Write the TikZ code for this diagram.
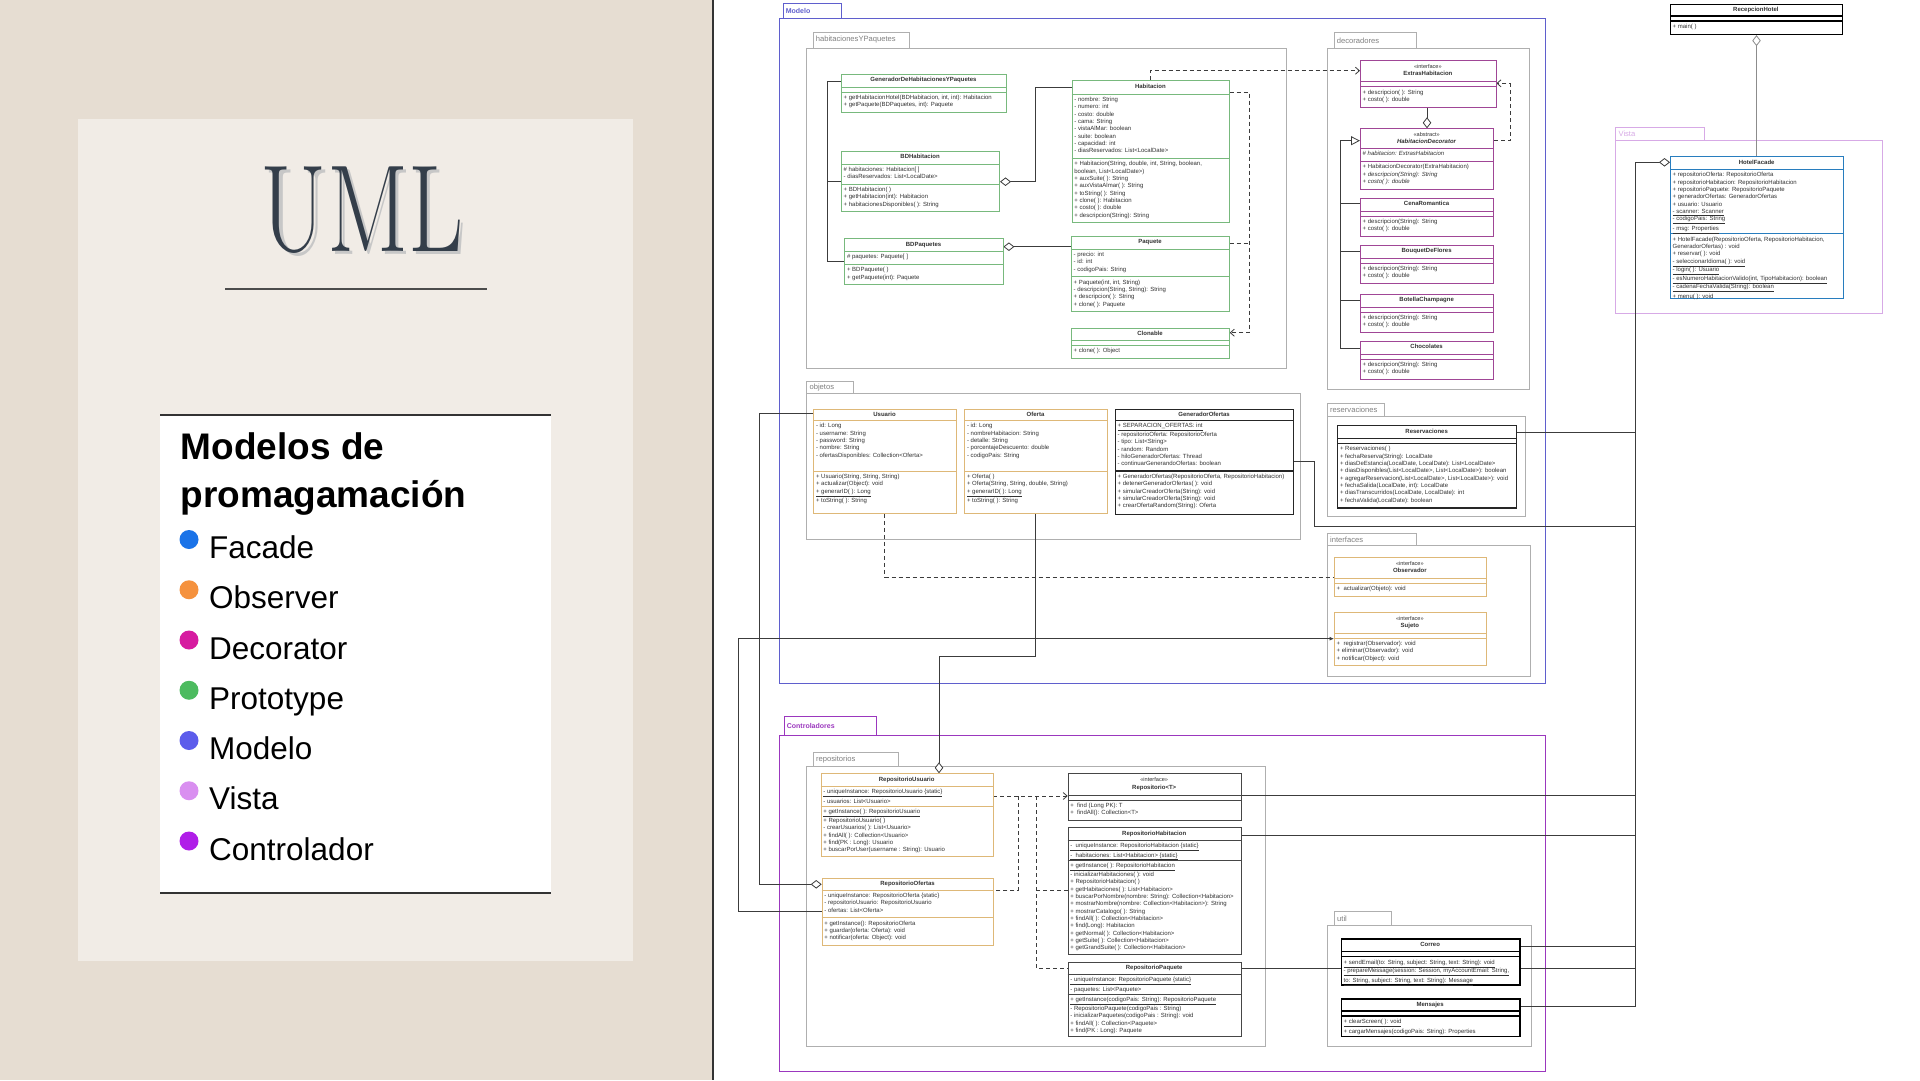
\documentclass[tikz,border=0pt]{standalone}
\usepackage{fontspec}
\newfontfamily\lsans{Liberation Sans}
\usetikzlibrary{arrows.meta,fit}
\pgfdeclarelayer{pk}
\pgfdeclarelayer{cn}
\pgfsetlayers{pk,cn,main}

\definecolor{bgout}{RGB}{230,221,210}
\definecolor{bgin}{RGB}{241,236,230}
\definecolor{umlc}{RGB}{52,62,74}
\definecolor{txt}{RGB}{50,50,50}
\definecolor{protoC}{RGB}{120,185,125}
\definecolor{decoC}{RGB}{160,70,150}
\definecolor{obsC}{RGB}{222,184,120}
\definecolor{darkC}{RGB}{70,70,70}
\definecolor{facC}{RGB}{40,125,190}
\definecolor{pkgC}{RGB}{175,175,175}
\definecolor{modC}{RGB}{95,95,205}
\definecolor{visC}{RGB}{215,170,230}
\definecolor{ctrC}{RGB}{155,55,190}
\definecolor{lineC}{RGB}{60,60,60}
\definecolor{lgFac}{RGB}{26,115,232}
\definecolor{lgObs}{RGB}{245,146,62}
\definecolor{lgDec}{RGB}{214,27,160}
\definecolor{lgPro}{RGB}{76,187,95}
\definecolor{lgMod}{RGB}{92,92,235}
\definecolor{lgVis}{RGB}{217,143,240}
\definecolor{lgCtr}{RGB}{176,30,232}

\newcommand\uhf{\lsans\bfseries\fontsize{6}{7.33}\selectfont}
\newcommand\ubf{\lsans\fontsize{6}{7.33}\selectfont}
\newcommand\ster[1]{{\mdseries\fontsize{5.6}{7.33}\selectfont «#1»}}

\tikzset{
  ubox/.style={draw, fill=white, anchor=north west, inner sep=0pt, line width=0.7pt},
  sProto/.style={draw=protoC},
  sDeco/.style={draw=decoC},
  sObs/.style={draw=obsC},
  sDark/.style={draw=darkC},
  sDarkB/.style={draw=black!85, line width=1.1pt},
  sBlk/.style={draw=black, line width=1.3pt},
  sFac/.style={draw=facC, line width=0.9pt},
  uhead/.style={inner sep=0pt, align=center, text=txt, font=\uhf},
  ubody/.style={anchor=north west, inner sep=0pt, align=left, text=txt, font=\ubf},
  pkg/.style={draw, inner sep=0pt, line width=0.7pt},
  pkglab/.style={anchor=west, inner sep=0pt, text=black!50, font=\lsans\fontsize{7.6}{9}\selectfont},
  conn/.style={draw=lineC, line width=0.8pt},
  gconn/.style={draw=black!45, line width=0.8pt},
  dconn/.style={conn, dash pattern=on 4pt off 3pt},
  agg/.style={{Diamond[fill=white,length=11pt,width=8.5pt]}-},
  inh/.style={-{Triangle[fill=white,length=9pt,width=9pt]}},
  dep/.style={-{Straight Barb[length=4pt,width=7pt]}},
}

\newcommand\ucls[9]{%
  \tikzset{ucur/.style={#2}}%
  \def\uN{#1}\def\uX{#3}\def\uY{#4}\def\uW{#5}\def\uHd{#6}\def\uhh{#7}\def\unA{#8}\def\unM{#9}%
  \uclsrest}
\newcommand\uclsrest[2]{%
  \pgfmathsetmacro\uA{\unA==0 ? 5 : 7.33*\unA+5.5}%
  \pgfmathsetmacro\uM{\unM==0 ? 5 : 7.33*\unM+5.5}%
  \pgfmathsetmacro\uH{\uhh+\uA+\uM}%
  \pgfmathsetmacro\uyA{\uY+\uhh}%
  \pgfmathsetmacro\uyM{\uY+\uhh+\uA}%
  \node[ubox,ucur,minimum width=\uW,minimum height=\uH] (\uN) at (\uX,\uY) {};%
  \draw[ucur] (\uX,\uyA) -- ++(\uW,0) (\uX,\uyM) -- ++(\uW,0);%
  \node[uhead] (\uN-h) at (\uX+\uW/2,\uY+\uhh/2) {\strut\uHd\strut};%
  \if\relax\detokenize{#1}\relax\else
    \node[ubody] (\uN-a) at (\uX+2.5,\uyA+2.3) {\strut#1\strut};\fi
  \if\relax\detokenize{#2}\relax\else
    \node[ubody] (\uN-m) at (\uX+2.5,\uyM+2.3) {\strut#2\strut};\fi
}

\newcommand\upkg[6]{%
  \node[pkg,#2,fit={#6}] (#1) {};
  \node[pkg,#2,fit={#5}] (#1-tab) {};
  \node[pkglab,#4] (#1-lab) at ([xshift=3pt]#1-tab.west) {#3};
}

\begin{document}
\begin{tikzpicture}[x=1pt,y=-1pt]
\useasboundingbox (0,0) rectangle (1920,1080);

% ---------------- classes ----------------
\ucls{genHP}{sProto}{841}{74}{165}{GeneradorDeHabitacionesYPaquetes}{13}{0}{2}
 {}
 {+ getHabitacionHotel(BDHabitacion, int, int): Habitacion\\+ getPaquete(BDPaquetes, int): Paquete}
\ucls{bdh}{sProto}{841}{150.7}{158.3}{BDHabitacion}{13}{2}{3}
 {\# habitaciones: Habitacion[ ]\\- diasReservados: List<LocalDate>}
 {+ BDHabitacion( )\\+ getHabitacion(int): Habitacion\\+ habitacionesDisponibles( ): String}
\ucls{bdp}{sProto}{844.3}{238.3}{158.4}{BDPaquetes}{13}{1}{2}
 {\# paquetes: Paquete[ ]}
 {+ BDPaquete( )\\+ getPaquete(int): Paquete}
\ucls{hab}{sProto}{1071.7}{80}{157.3}{Habitacion}{14}{8}{8}
 {- nombre: String\\- numero: int\\- costo: double\\- cama: String\\- vistaAlMar: boolean\\- suite: boolean\\- capacidad: int\\- diasReservados: List<LocalDate>}
 {+ Habitacion(String, double, int, String, boolean,\\boolean, List<LocalDate>)\\+ auxSuite( ): String\\+ auxVistaAlmar( ): String\\+ toString( ): String\\+ clone( ): Habitacion\\+ costo( ): double\\+ descripcion(String): String}
\ucls{paq}{sProto}{1071}{236}{158}{Paquete}{13}{3}{4}
 {- precio: int\\- id: int\\- codigoPais: String}
 {+ Paquete(int, int, String)\\- descripcion(String, String): String\\+ descripcion( ): String\\+ clone( ): Paquete}
\ucls{clon}{sProto}{1071}{327.7}{158}{Clonable}{12.5}{0}{1}
 {}
 {+ clone( ): Object}

\ucls{extras}{sDeco}{1360}{60}{135.7}{\ster{interface}\\ExtrasHabitacion}{21.5}{0}{2}
 {}
 {+ descripcion( ): String\\+ costo( ): double}
\ucls{habdec}{sDeco}{1360}{128.3}{133.3}{\ster{abstract}\\\textit{HabitacionDecorator}}{20}{1}{3}
 {\textit{\# habitacion: ExtrasHabitacion}}
 {+ HabitacionDecorator(ExtraHabitacion)\\\textit{+ descripcion(String): String}\\\textit{+ costo( ): double}}
\ucls{cena}{sDeco}{1360}{197.7}{133.3}{CenaRomantica}{13}{0}{2}
 {}
 {+ descripcion(String): String\\+ costo( ): double}
\ucls{bouq}{sDeco}{1360}{245}{133.3}{BouquetDeFlores}{13}{0}{2}
 {}
 {+ descripcion(String): String\\+ costo( ): double}
\ucls{bot}{sDeco}{1360}{293.7}{133.3}{BotellaChampagne}{13}{0}{2}
 {}
 {+ descripcion(String): String\\+ costo( ): double}
\ucls{choc}{sDeco}{1360}{341}{133.3}{Chocolates}{13}{0}{2}
 {}
 {+ descripcion(String): String\\+ costo( ): double}

\ucls{usu}{sObs}{813.3}{409.3}{142.4}{Usuario}{11}{6.17}{5}
 {- id: Long\\- username: String\\- password: String\\- nombre: String\\- ofertasDisponibles: Collection<Oferta>}
 {+ Usuario(String, String, String)\\+ actualizar(Object): void\\\underline{+ generarID( ): Long}\\+ toString( ): String}
\ucls{ofe}{sObs}{964.3}{409.3}{142.4}{Oferta}{11}{6.17}{5}
 {- id: Long\\- nombreHabitacion: String\\- detalle: String\\- porcentajeDescuento: double\\- codigoPais: String}
 {+ Oferta( )\\+ Oferta(String, String, double, String)\\\underline{+ generarID( ): Long}\\+ toString( ): String}
\ucls{genOf}{sDarkB}{1115}{409.3}{178.3}{GeneradorOfertas}{11}{6.17}{5.16}
 {\underline{+ SEPARACION\_OFERTAS: int}\\- repositorioOferta: RepositorioOferta\\- tipo: List<String>\\- random: Random\\- hiloGeneradorOfertas: Thread\\- continuarGenerandoOfertas: boolean}
 {+ GeneradorOfertas(RepositorioOferta, RepositorioHabitacion)\\+ detenerGeneradorOfertas( ): void\\+ simularCreadorOferta(String): void\\+ simularCreadorOferta(String): void\\+ crearOfertaRandom(String): Oferta}

\ucls{res}{sDarkB}{1337.3}{425}{178.7}{Reservaciones}{13.3}{0}{8}
 {}
 {+ Reservaciones( )\\+ fechaReserva(String): LocalDate\\+ diasDeEstancia(LocalDate, LocalDate): List<LocalDate>\\+ diasDisponibles(List<LocalDate>, List<LocalDate>): boolean\\+ agregarReservacion(List<LocalDate>, List<LocalDate>): void\\+ fechaSalida(LocalDate, int): LocalDate\\+ diasTranscurridos(LocalDate, LocalDate): int\\+ fechaValida(LocalDate): boolean}

\ucls{obs}{sObs}{1334}{556.7}{151.7}{\ster{interface}\\Observador}{21}{0}{1}
 {}
 {+ \ actualizar(Objeto): void}
\ucls{suj}{sObs}{1334}{611.7}{151.7}{\ster{interface}\\Sujeto}{21}{0}{3}
 {}
 {+ \ registrar(Observador): void\\+ eliminar(Observador): void\\+ notificar(Object): void}

\ucls{rec}{sBlk}{1670}{4}{171.7}{RecepcionHotel}{12}{0}{1}
 {}
 {+ main( )}
\ucls{fac}{sFac}{1670}{156}{173.3}{HotelFacade}{13.3}{8}{8}
 {+ repositorioOferta: RepositorioOferta\\+ repositorioHabitacion: RepositorioHabitacion\\+ repositorioPaquete: RepositorioPaquete\\+ generadorOfertas: GeneradorOfertas\\+ usuario: Usuario\\\underline{- scanner: Scanner}\\\underline{- codigoPais: String}\\\underline{- msg: Properties}}
 {+ HotelFacade(RepositorioOferta, RepositorioHabitacion,\\GeneradorOfertas) : void\\+ reservar( ): void\\\underline{- seleccionarIdioma( ): void}\\\underline{- login( ): Usuario}\\\underline{- esNumeroHabitacionValido(int, TipoHabitacion): boolean}\\\underline{- cadenaFechaValida(String): boolean}\\+ menu( ): void}

\ucls{repU}{sObs}{820.7}{773.3}{172}{RepositorioUsuario}{12.7}{2}{6}
 {\underline{- uniqueInstance: RepositorioUsuario \{static\}}\\- usuarios: List<Usuario>}
 {\underline{+ getInstance( ): RepositorioUsuario}\\+ RepositorioUsuario( )\\- crearUsuarios( ): List<Usuario>\\+ findAll( ): Collection<Usuario>\\+ find(PK : Long): Usuario\\+ buscarPorUser(username : String): Usuario}
\ucls{repO}{sObs}{821.7}{878.3}{171.6}{RepositorioOfertas}{11.7}{3}{3}
 {- uniqueInstance: RepositorioOferta \{static\}\\- repositorioUsuario: RepositorioUsuario\\- ofertas: List<Oferta>}
 {+ getInstance(): RepositorioOferta\\+ guardar(oferta: Oferta): void\\+ notificar(oferta: Object): void}
\ucls{repT}{sDark}{1067.7}{773.3}{173}{\ster{interface}\\Repositorio<T>}{21.5}{0}{2}
 {}
 {+ \ find (Long PK): T\\+ \ findAll(): Collection<T>}
\ucls{repH}{sDark}{1067.7}{827.3}{173}{RepositorioHabitacion}{12.7}{2}{12}
 {\underline{- \ uniqueInstance: RepositorioHabitacion \{static\}}\\\underline{- \ habitaciones: List<Habitacion> \{static\}}}
 {\underline{+ getInstance( ): RepositorioHabitacion}\\- inicializarHabitaciones( ): void\\+ RepositorioHabitacion( )\\+ getHabitaciones( ): List<Habitacion>\\+ buscarPorNombre(nombre: String): Collection<Habitacion>\\+ mostrarNombre(nombre: Collection<Habitacion>): String\\+ mostrarCatalogo( ): String\\+ findAll( ): Collection<Habitacion>\\+ find(Long): Habitacion\\+ getNormal( ): Collection<Habitacion>\\+ getSuite( ): Collection<Habitacion>\\+ getGrandSuite( ): Collection<Habitacion>}
\ucls{repP}{sDark}{1067.7}{961.7}{173}{RepositorioPaquete}{12.3}{2}{5}
 {\underline{- uniqueInstance: RepositorioPaquete \{static\}}\\- paquetes: List<Paquete>}
 {\underline{+ getInstance(codigoPais: String): RepositorioPaquete}\\- RepositorioPaquete(codigoPais : String)\\- inicializarPaquetes(codigoPais : String): void\\+ findAll( ): Collection<Paquete>\\+ find(PK : Long): Paquete}

\ucls{cor}{sBlk}{1341}{938.3}{178.3}{Correo}{13.4}{0}{3}
 {}
 {\underline{+ sendEmail(to: String, subject: String, text: String): void}\\\underline{- prepareMessage(session: Session, myAccountEmail: String,}\\\underline{to: String, subject: String, text: String): Message}}
\ucls{men}{sBlk}{1341}{998.3}{178.3}{Mensajes}{12.7}{0}{2}
 {}
 {\underline{+ clearScreen( ): void}\\+ cargarMensajes(codigoPais: String): Properties}

% ---------------- backgrounds and packages ----------------
\begin{pgfonlayer}{pk}
\fill[bgout] (0,0) rectangle (712,1080);
\fill[white] (712,0) rectangle (1920,1080);
\draw[line width=2pt, black!80] (713,0) -- (713,1080);
\fill[bgin] (78,119) rectangle (633,961);
\node[inner sep=0pt, text=black!22, font=\fontsize{124}{124}\selectfont] (umlsh) at (365.5,213.5) {\scalebox{0.77}[1]{UML}};
\node[inner sep=0pt, text=umlc, font=\fontsize{124}{124}\selectfont] (uml) at (362,210) {\scalebox{0.77}[1]{UML}};
\coordinate (ul1) at (225,289);
\coordinate (ul2) at (487,289);
\draw[line width=1.3pt, black!70] (ul1) -- (ul2);
\fill[white] (160,415) rectangle (551,893);
\draw[line width=1.6pt, black!80] (160,415) -- (551,415) (160,893) -- (551,893);
\node[anchor=base west, inner sep=0pt, font=\lsans\bfseries\fontsize{37}{44}\selectfont] (lt1) at (180.5,459) {Modelos de};
\node[anchor=base west, inner sep=0pt, font=\lsans\bfseries\fontsize{37}{44}\selectfont] (lt2) at (180.5,507) {promagamación};
\foreach \t/\c [count=\i from 0] in {Facade/lgFac, Observer/lgObs, Decorator/lgDec, Prototype/lgPro, Modelo/lgMod, Vista/lgVis, Controlador/lgCtr}{
  \pgfmathsetmacro\yb{558.5+50.25*\i}
  \fill[\c] (189,\yb-19) circle[radius=9.5pt];
  \node[anchor=base west, inner sep=0pt, font=\lsans\fontsize{31.5}{36}\selectfont] (li\i) at (209,\yb) {\t};
}

\upkg{pModelo}{draw=modC}{Modelo}{text=modC,font=\lsans\bfseries\fontsize{7}{8}\selectfont}{(783,3.4)(841,18.6)}{(779,18.6)(1545,683)}
\upkg{pHyp}{draw=pkgC}{habitacionesYPaquetes}{}{(813,32)(909,48)}{(806.7,48)(1286.5,368.5)}
\upkg{pDeco}{draw=pkgC}{decoradores}{}{(1334,32.3)(1416.7,48.3)}{(1327.7,48.3)(1529.5,389)}
\upkg{pObj}{draw=pkgC}{objetos}{}{(806.7,381)(853.3,393.3)}{(806.7,393.3)(1300,539.3)}
\upkg{pRes}{draw=pkgC}{reservaciones}{}{(1327.3,403.3)(1384,416.7)}{(1327.3,416.7)(1525,516)}
\upkg{pInt}{draw=pkgC}{interfaces}{}{(1327.3,533.3)(1416.7,545.7)}{(1327.3,545.7)(1530,676)}
\upkg{pVista}{draw=visC}{Vista}{text=visC}{(1615.7,127.3)(1704.3,140.7)}{(1615.7,140.7)(1882.7,313.3)}
\upkg{pCtrl}{draw=ctrC}{Controladores}{text=ctrC,font=\lsans\bfseries\fontsize{7}{8}\selectfont}{(784,716)(876.6,735.6)}{(779,735.6)(1545,1071)}
\upkg{pRepo}{draw=pkgC}{repositorios}{}{(813.3,752.7)(898.3,766.7)}{(806.7,766.7)(1265,1046.7)}
\upkg{pUtil}{draw=pkgC}{util}{}{(1334.3,911.7)(1391.7,925)}{(1327.7,925)(1531.7,1046.7)}
\end{pgfonlayer}

% ---------------- connectors ----------------
\begin{pgfonlayer}{cn}
% habitacionesYPaquetes
\coordinate (hbus) at (827.3,81.7);
\draw[conn] (genHP.west |- 0,81.7) -- (hbus) |- (bdp.west |- 0,261.7);
\draw[conn] (bdh.west |- 0,181.7) -- (hbus |- 0,181.7);
\draw[conn,agg] (bdh.east |- 0,181.7) -- (1035.7,181.7) |- (hab.west |- 0,87.3);
\draw[conn,agg] (bdp.east |- 0,246.7) -- (paq.west |- 0,246.7);
\draw[dconn,dep] (hab.east |- 0,92.3) -- (1249.3,92.3) |- (clon.east |- 0,332.7);
\draw[dconn] (paq.east |- 0,243.7) -- (1249.3,243.7);
\draw[dconn,dep] (hab.north -| 1150,0) |- (extras.west |- 0,70.7);
% decoradores
\draw[conn,agg] (habdec.north) -- (habdec.north |- extras.south);
\draw[dconn,dep] (habdec.east |- 0,140.7) -- (1510,140.7) |- (extras.east |- 0,83.3);
\coordinate (ibus) at (1340,140.7);
\draw[conn,inh] (choc.west |- 0,348.3) -| (ibus) -- (habdec.west |- 0,140.7);
\draw[conn] (cena.west |- 0,203.3) -- (ibus |- 0,203.3);
\draw[conn] (bouq.west |- 0,251.7) -- (ibus |- 0,251.7);
\draw[conn] (bot.west |- 0,300.3) -- (ibus |- 0,300.3);
% vista
\draw[gconn,agg] (rec.south) -- (rec.south |- fac.north);
\coordinate (rbus) at (1635.7,162.3);
\draw[conn,agg] (fac.west |- 0,162.3) -- (rbus) |- (men.east |- 0,1006);
\draw[conn] (res.east |- 0,432.7) -- (rbus |- 0,432.7);
\draw[conn] (genOf.east |- 0,461.7) -- (1314.7,461.7) |- (rbus |- 0,526);
\draw[conn] (repT.east |- 0,795) -- (rbus |- 0,795);
\draw[conn] (repH.east |- 0,835.7) -- (rbus |- 0,835.7);
\draw[conn] (repP.east |- 0,968.3) -- (rbus |- 0,968.3);
\draw[conn] (cor.east |- 0,946.7) -- (rbus |- 0,946.7);
% objetos / interfaces
\draw[dconn] (usu.south) |- (obs.west |- 0,577);
\draw[conn,agg] (repU.north -| 939,0) -- (939,656) -| (ofe.south);
\draw[conn,agg] (repO.west |- 0,884.3) -- (759.2,884.3) |- (usu.west |- 0,413);
\draw[conn,-{Latex[length=4.5pt,width=4pt]}] (repO.west |- 0,911.7) -- (738.4,911.7) |- (suj.west |- 0,638.7);
% repositorios
\draw[dconn,dep] (repU.east |- 0,796) -- (repT.west |- 0,796);
\coordinate (j1) at (1018.3,796);
\coordinate (j2) at (1036,796);
\draw[dconn] (j1) |- (repO.east |- 0,890);
\draw[dconn] (j2) |- (repP.west |- 0,968);
\draw[dconn] (j2 |- 0,890) -- (repH.west |- 0,890);
\end{pgfonlayer}
\end{tikzpicture}
\end{document}
